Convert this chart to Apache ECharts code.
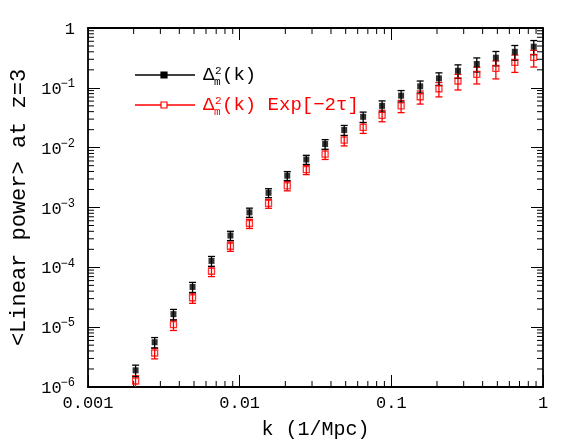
<!DOCTYPE html>
<html><head><meta charset="utf-8">
<script src="https://cdn.jsdelivr.net/npm/echarts@6/dist/echarts.min.js"></script>
<style>html,body{margin:0;padding:0;background:#fff}#c{width:574px;height:448px}</style>
</head><body><div id="c"></div>
<script>
// ---- data ----
const kValues = [0.00206, 0.00275, 0.00366, 0.00489, 0.00652, 0.00869, 0.0116, 0.0155, 0.0206, 0.0275, 0.0366,
  0.0489, 0.0652, 0.0869, 0.116, 0.155, 0.206, 0.275, 0.366, 0.489, 0.652, 0.869];
const deltaM = [1.9e-6, 5.6e-6, 1.65e-5, 4.7e-5, 1.28e-4, 3.4e-4, 8.3e-4, 1.76e-3, 3.4e-3, 6.35e-3, 1.15e-2,
  1.97e-2, 3.28e-2, 5.0e-2, 7.4e-2, 0.106, 0.144, 0.193, 0.25, 0.319, 0.40, 0.487];
const deltaMExp = [1.26e-6, 3.7e-6, 1.1e-5, 3.1e-5, 8.6e-5, 2.25e-4, 5.4e-4, 1.17e-3, 2.3e-3, 4.3e-3, 7.8e-3,
  1.34e-2, 2.18e-2, 3.46e-2, 5.0e-2, 0.071, 0.0966, 0.130, 0.168, 0.211, 0.267, 0.323];
const errM = [4.2e-7, 1.1e-6, 3.3e-6, 9.0e-6, 2.4e-5, 6.0e-5, 1.45e-4, 3.0e-4, 5.8e-4, 1.1e-3, 2.1e-3,
  3.8e-3, 6.5e-3, 1.05e-2, 1.6e-2, 2.4e-2, 3.4e-2, 4.9e-2, 6.6e-2, 8.6e-2, 1.1e-1, 1.3e-1];
const errMExp = [2.8e-7, 7.5e-7, 2.2e-6, 6.0e-6, 1.6e-5, 4.0e-5, 9.5e-5, 2.0e-4, 4.0e-4, 7.5e-4, 1.45e-3,
  2.7e-3, 4.5e-3, 7.5e-3, 1.15e-2, 1.75e-2, 2.6e-2, 3.8e-2, 5.2e-2, 7.0e-2, 8.6e-2, 1.0e-1];
const xTickLabels = ['0.001', '0.01', '0.1', '1'];
const yTickLabels = ['10|−6', '10|−5', '10|−4', '10|−3', '10|−2', '10|−1', '1'];
const xRange = [0.001, 1];
const yRange = [1e-6, 1];

const FONT = 'Liberation Mono';
const RED = '#ff0000';

// minor tick positions (2..9 x 10^n)
const minorX = [], minorY = [];
for (let e = -3; e < 0; e++) for (let m = 2; m <= 9; m++) minorX.push(m * Math.pow(10, e));
for (let e = -6; e < 0; e++) for (let m = 2; m <= 9; m++) minorY.push(m * Math.pow(10, e));

const chart = echarts.init(document.getElementById('c'), null, {renderer: 'canvas'});

function errRender(color) {
  return function (params, api) {
    const x = api.value(0), v = api.value(1), e = api.value(2);
    const hi = api.coord([x, v + e]);
    const lo = api.coord([x, Math.max(v - e, 1e-12)]);
    const bottom = api.coord([x, yRange[0]])[1];
    const children = [];
    const loY = Math.min(lo[1], bottom);
    const st = {stroke: color, lineWidth: 1.3};
    children.push({type: 'line', shape: {x1: hi[0], y1: hi[1], x2: hi[0], y2: loY}, style: st});
    children.push({type: 'line', shape: {x1: hi[0] - 3.5, y1: hi[1], x2: hi[0] + 3.5, y2: hi[1]}, style: st});
    if (lo[1] <= bottom) children.push({type: 'line', shape: {x1: lo[0] - 3.5, y1: lo[1], x2: lo[0] + 3.5, y2: lo[1]}, style: st});
    return {type: 'group', children};
  };
}

function minorXRender(params, api) {
  const x = api.value(0);
  const b = api.coord([x, yRange[0]]);
  const t = api.coord([x, yRange[1]]);
  const st = {stroke: '#000', lineWidth: 1};
  return {type: 'group', children: [
    {type: 'line', shape: {x1: b[0], y1: b[1], x2: b[0], y2: b[1] - 6}, style: st},
    {type: 'line', shape: {x1: t[0], y1: t[1], x2: t[0], y2: t[1] + 6}, style: st}
  ]};
}
function minorYRender(params, api) {
  const y = api.value(1);
  const l = api.coord([xRange[0], y]);
  const r = api.coord([xRange[1], y]);
  const st = {stroke: '#000', lineWidth: 1};
  return {type: 'group', children: [
    {type: 'line', shape: {x1: l[0], y1: l[1], x2: l[0] + 6, y2: l[1]}, style: st},
    {type: 'line', shape: {x1: r[0], y1: r[1], x2: r[0] - 6, y2: r[1]}, style: st}
  ]};
}

const axisLineStyle = {color: '#000', width: 1.8};
const tickStyle = {color: '#000', width: 1};

function baseX(pos, showLabel) {
  return {
    type: 'log', logBase: 10, min: xRange[0], max: xRange[1], position: pos,
    axisLine: {show: true, onZero: false, lineStyle: axisLineStyle},
    axisTick: {show: true, inside: true, length: 12, lineStyle: tickStyle},
    minorTick: {show: false}, splitLine: {show: false},
    axisLabel: {show: showLabel, margin: 8, fontFamily: FONT, fontSize: 17, color: '#000',
      formatter: function (v) { const e = Math.round(Math.log10(v)); return xTickLabels[e + 3]; }},
    name: showLabel ? 'k (1/Mpc)' : '', nameLocation: 'middle', nameGap: 33,
    nameTextStyle: {fontFamily: FONT, fontSize: 20, color: '#000'}
  };
}
function baseY(pos, showLabel) {
  return {
    type: 'log', logBase: 10, min: yRange[0], max: yRange[1], interval: 1, position: pos,
    axisLine: {show: true, onZero: false, lineStyle: axisLineStyle},
    axisTick: {show: true, inside: true, length: 12, lineStyle: tickStyle},
    minorTick: {show: false}, splitLine: {show: false},
    axisLabel: {show: showLabel, margin: 13, color: '#000',
      formatter: function (v) {
        const e = Math.round(Math.log10(v));
        const s = yTickLabels[e + 6];
        const p = s.split('|');
        return p.length > 1 ? '{b|' + p[0] + '}{s|' + p[1] + '}' : '{b|' + p[0] + '}';
      },
      rich: {
        b: {fontFamily: FONT, fontSize: 17, lineHeight: 20, verticalAlign: 'bottom'},
        s: {fontFamily: FONT, fontSize: 12, lineHeight: 18, verticalAlign: 'top', padding: [0, 0, 0, -1]}
      }},
    name: showLabel ? '<Linear power> at z=3' : '', nameLocation: 'middle', nameGap: 58,
    nameTextStyle: {fontFamily: FONT, fontSize: 22, color: '#000'}
  };
}

const ptsM = kValues.map((k, i) => [k, deltaM[i], errM[i]]);
const ptsE = kValues.map((k, i) => [k, deltaMExp[i], errMExp[i]]);

const legendX = 135, legendY1 = 75, legendY2 = 105;
function legendRow(y, color, filled, extra) {
  const children = [
    {type: 'line', shape: {x1: legendX, y1: y, x2: legendX + 60, y2: y}, style: {stroke: color, lineWidth: 1.3}},
    {type: 'rect', shape: {x: legendX + 26, y: y - 3, width: 6, height: 6},
      style: {fill: filled ? color : '#fff', stroke: color, lineWidth: 1.2}},
    {type: 'text', x: 203, y: y, style: {text: 'Δ', fontFamily: FONT, fontSize: 19, fill: color, verticalAlign: 'middle'}},
    {type: 'text', x: 215, y: y - 4, style: {text: '2', fontFamily: FONT, fontSize: 11, fill: color, verticalAlign: 'middle'}},
    {type: 'text', x: 214, y: y + 7, style: {text: 'm', fontFamily: FONT, fontSize: 11, fill: color, verticalAlign: 'middle'}},
    {type: 'text', x: 222, y: y, style: {text: '(k)' + extra, fontFamily: FONT, fontSize: 19, fill: color, verticalAlign: 'middle'}}
  ];
  return {type: 'group', children};
}

chart.setOption({
  animation: false,
  backgroundColor: '#fff',
  grid: {left: 88, right: 31, top: 28, bottom: 61, containLabel: false},
  xAxis: [baseX('bottom', true), baseX('top', false)],
  yAxis: [baseY('left', true), baseY('right', false)],
  graphic: [legendRow(legendY1, '#000', true, ''), legendRow(legendY2, RED, false, ' Exp[−2τ]')],
  series: [
    {type: 'custom', silent: true, data: minorX.map(x => [x, yRange[0]]), renderItem: minorXRender, z: 1},
    {type: 'custom', silent: true, data: minorY.map(y => [xRange[0], y]), renderItem: minorYRender, z: 1},
    {type: 'custom', silent: true, data: ptsE, renderItem: errRender(RED), encode: {x: 0, y: 1}, z: 2},
    {type: 'custom', silent: true, data: ptsM, renderItem: errRender('#000'), encode: {x: 0, y: 1}, z: 3},
    {type: 'scatter', silent: true, data: ptsE.map(p => [p[0], p[1]]), symbol: 'rect', symbolSize: 6,
      itemStyle: {color: 'rgba(255,255,255,0)', borderColor: RED, borderWidth: 1.3}, z: 4},
    {type: 'scatter', silent: true, data: ptsM.map(p => [p[0], p[1]]), symbol: 'rect', symbolSize: 6,
      itemStyle: {color: '#000'}, z: 5}
  ]
});
</script>
</body></html>
